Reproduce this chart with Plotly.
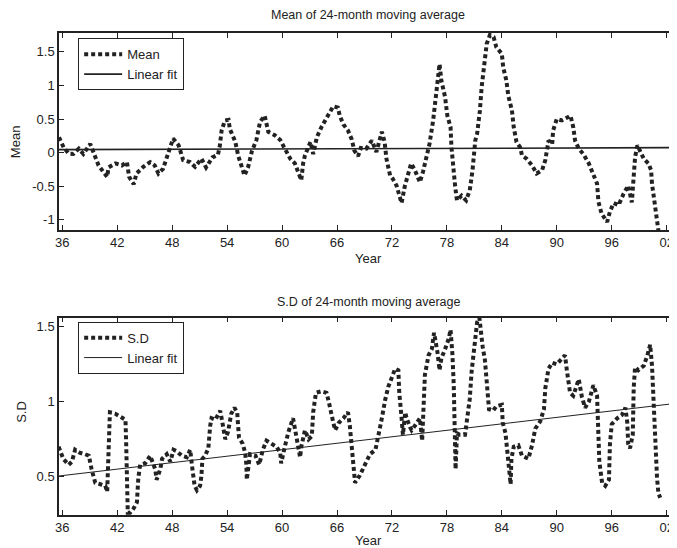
import plotly.graph_objects as go

# ---------------- data (years given as offsets from 1900) ----------------
mean_years = [35.64, 36.14, 36.7, 37.2, 37.8, 38.3, 39.05, 39.4, 39.96, 40.9, 41.05, 41.8, 42.5, 43.06,
              43.3, 43.8, 44.1, 44.85, 45.6, 46.1, 46.5, 47.0, 47.6, 48.1, 48.7, 49.2, 49.95, 50.5,
              51.2, 51.7, 52.4, 53.0, 53.2, 53.4, 53.76, 54.15, 54.3, 54.9, 55.2, 55.5, 55.9, 56.3,
              56.7, 57.2, 57.6, 58.1, 58.3, 58.5, 59.2, 59.8, 60.3, 60.9, 61.4, 61.8, 62.1, 62.3,
              62.5, 63.1, 63.4, 63.8, 64.3, 65.0, 65.6, 66.1, 66.3, 66.7, 67.2, 67.6, 67.9, 68.3,
              68.6, 69.2, 69.8, 70.3, 70.9, 71.2, 71.4, 71.8, 72.1, 72.5, 72.9, 73.05, 73.4, 73.8,
              74.1, 74.5, 75.05, 75.4, 75.8, 76.1, 76.5, 76.8, 77.05, 77.2, 77.4, 77.8, 78.05, 78.4,
              78.5, 78.7, 78.9, 79.1, 79.6, 80.1, 80.5, 80.8, 81.1, 81.3, 81.6, 81.8, 82.1, 82.35,
              82.7, 83.1, 83.4, 84.0, 84.15, 84.5, 84.7, 85.1, 85.3, 85.6, 86.0, 86.2, 86.7, 87.3,
              87.8, 88.4, 88.75, 89.1, 89.5, 89.6, 90.0, 90.55, 91.1, 91.5, 91.8, 92.0, 92.4, 92.9,
              93.5, 94.1, 94.4, 94.55, 94.9, 95.5, 95.8, 96.2, 96.75, 97.3, 97.8, 98.2, 98.4, 98.55,
              98.8, 99.1, 99.5, 100.0, 100.3, 100.4, 100.6, 100.8, 101.0, 101.1]
mean_values = [0.23, 0.08, -0.015, -0.02, 0.06, -0.02, 0.13, 0.0, -0.19, -0.36, -0.22, -0.16, -0.19, -0.14,
               -0.36, -0.47, -0.31, -0.21, -0.14, -0.19, -0.31, -0.24, 0.01, 0.21, 0.11, -0.11, -0.14, -0.21,
               -0.09, -0.22, -0.07, -0.03, 0.10, 0.33, 0.48, 0.49, 0.35, 0.16, -0.04, -0.19, -0.34, -0.21,
               0.02, 0.19, 0.46, 0.55, 0.40, 0.31, 0.26, 0.19, 0.06, -0.09, -0.16, -0.31, -0.41, -0.16,
               -0.04, 0.16, -0.02, 0.23, 0.38, 0.55, 0.69, 0.67, 0.55, 0.42, 0.33, 0.20, 0.03, -0.05,
               0.07, 0.06, 0.18, 0.01, 0.31, 0.16, -0.09, -0.34, -0.39, -0.49, -0.66, -0.75, -0.50, -0.28,
               -0.16, -0.26, -0.44, -0.28, -0.06, 0.13, 0.48, 0.83, 1.18, 1.32, 1.07, 0.83, 0.55, 0.38,
               0.08, -0.26, -0.50, -0.71, -0.64, -0.71, -0.56, -0.26, 0.18, 0.28, 0.62, 0.98, 1.32, 1.62,
               1.75, 1.72, 1.57, 1.47, 1.27, 1.07, 0.85, 0.63, 0.38, 0.16, 0.08, -0.04, -0.09, -0.19,
               -0.31, -0.26, -0.11, 0.18, 0.13, 0.33, 0.50, 0.48, 0.52, 0.55, 0.38, 0.18, 0.06, -0.02,
               -0.16, -0.36, -0.46, -0.73, -0.91, -1.03, -0.88, -0.75, -0.78, -0.61, -0.49, -0.74, -0.41, -0.07,
               0.11, 0.03, -0.09, -0.16, -0.26, -0.46, -0.66, -0.86, -1.06, -1.16]

sd_years = [35.6, 35.8, 36.1, 36.7, 37.05, 37.4, 37.9, 38.5, 38.9, 39.2, 39.6, 40.15, 40.7, 40.9,
            41.0, 41.07, 41.12, 41.2, 41.8, 42.3, 42.9, 42.98, 43.05, 43.15, 43.4, 43.8, 44.15, 44.3,
            44.5, 45.05, 45.6, 45.8, 46.15, 46.3, 46.7, 46.9, 47.4, 47.8, 48.15, 48.5, 49.05, 49.6,
            49.97, 50.15, 50.45, 50.7, 51.05, 51.2, 51.3, 51.6, 51.95, 52.15, 52.3, 52.7, 53.25, 53.4,
            53.6, 53.8, 54.1, 54.45, 54.8, 55.1, 55.2, 55.3, 55.7, 55.97, 56.1, 56.15, 56.5, 57.1,
            57.5, 57.9, 58.3, 58.8, 59.4, 59.8, 59.9, 60.3, 60.7, 61.2, 61.4, 61.7, 61.97, 62.1,
            62.5, 62.9, 63.25, 63.4, 63.7, 64.3, 64.85, 65.1, 65.4, 65.6, 65.8, 66.2, 66.7, 67.2,
            67.4, 67.6, 67.8, 67.97, 68.5, 69.05, 69.6, 70.2, 70.5, 70.9, 71.25, 71.6, 71.98, 72.35,
            72.7, 72.8, 73.0, 73.1, 73.2, 73.45, 73.6, 73.98, 74.15, 74.5, 75.05, 75.3, 75.4, 75.5,
            75.6, 76.0, 76.35, 76.6, 76.97, 77.2, 77.4, 77.8, 78.2, 78.4, 78.6, 78.75, 78.85, 78.95,
            79.1, 79.4, 79.98, 80.2, 80.5, 80.7, 81.1, 81.3, 81.55, 81.7, 81.9, 82.15, 82.3, 82.5,
            82.6, 83.05, 83.4, 84.0, 84.1, 84.4, 84.6, 84.8, 84.96, 85.05, 85.3, 85.8, 86.2, 86.9,
            87.3, 87.65, 88.2, 88.6, 88.75, 89.1, 89.5, 90.0, 90.55, 90.9, 91.1, 91.3, 91.45, 91.8,
            92.4, 92.75, 93.1, 93.5, 94.0, 94.4, 94.5, 94.65, 94.95, 95.3, 95.7, 95.8, 96.0, 96.6,
            97.1, 97.5, 97.7, 97.8, 98.0, 98.3, 98.4, 98.55, 98.9, 99.5, 99.9, 100.2, 100.4, 100.6,
            100.75, 100.95, 101.1, 101.3]
sd_values = [0.70, 0.66, 0.62, 0.58, 0.60, 0.68, 0.66, 0.65, 0.64, 0.55, 0.46, 0.45, 0.44, 0.40,
             0.55, 0.71, 0.86, 0.93, 0.92, 0.90, 0.88, 0.71, 0.49, 0.26, 0.26, 0.29, 0.33, 0.49,
             0.58, 0.59, 0.64, 0.60, 0.55, 0.48, 0.55, 0.62, 0.65, 0.60, 0.68, 0.67, 0.64, 0.63,
             0.68, 0.58, 0.44, 0.41, 0.44, 0.51, 0.62, 0.64, 0.69, 0.84, 0.89, 0.88, 0.94, 0.89,
             0.83, 0.75, 0.80, 0.92, 0.96, 0.93, 0.84, 0.76, 0.72, 0.66, 0.58, 0.48, 0.65, 0.64,
             0.58, 0.68, 0.74, 0.72, 0.70, 0.66, 0.59, 0.70, 0.80, 0.89, 0.83, 0.71, 0.63, 0.70,
             0.81, 0.75, 0.77, 0.93, 1.06, 1.07, 1.06, 1.00, 0.93, 0.86, 0.81, 0.86, 0.89, 0.93,
             0.84, 0.71, 0.58, 0.46, 0.51, 0.58, 0.65, 0.68, 0.76, 0.89, 1.01, 1.10, 1.16, 1.22,
             1.21, 1.06, 0.93, 0.83, 0.78, 0.93, 0.89, 0.83, 0.81, 0.84, 0.89, 0.74, 0.95, 1.08,
             1.18, 1.31, 1.35, 1.46, 1.33, 1.21, 1.29, 1.35, 1.42, 1.48, 1.32, 1.11, 0.86, 0.55,
             0.79, 0.78, 0.78, 0.88, 1.02, 1.20, 1.39, 1.53, 1.56, 1.46, 1.37, 1.28, 1.15, 1.02,
             0.95, 0.94, 0.97, 0.98, 0.86, 0.79, 0.66, 0.56, 0.45, 0.62, 0.70, 0.71, 0.64, 0.62,
             0.71, 0.82, 0.87, 0.95, 1.09, 1.22, 1.26, 1.25, 1.29, 1.31, 1.21, 1.11, 1.06, 1.04,
             1.15, 1.03, 0.96, 1.00, 1.11, 1.04, 0.82, 0.60, 0.46, 0.44, 0.48, 0.71, 0.85, 0.89,
             0.91, 0.96, 0.86, 0.72, 0.69, 0.78, 1.09, 1.23, 1.21, 1.24, 1.31, 1.38, 1.24, 0.93,
             0.67, 0.49, 0.39, 0.36]

fit_years = [35.64, 103.13]
mean_fit = [0.045, 0.075]
sd_fit = [0.505, 0.99]

tick_years = [36, 42, 48, 54, 60, 66, 72, 78, 84, 90, 96, 102]
tick_labels = ["36", "42", "48", "54", "60", "66", "72", "78", "84", "90", "96", "02"]
mean_ticks = [-1, -0.5, 0, 0.5, 1, 1.5]
mean_tick_labels = ["-1", "-0.5", "0", "0.5", "1", "1.5"]
sd_ticks = [0.5, 1, 1.5]
sd_tick_labels = ["0.5", "1", "1.5"]

x_range = [35.64, 103.13]
mean_range = [-1.15, 1.78]
sd_range = [0.245, 1.56]

FONT = "Liberation Sans, Arial, Helvetica, sans-serif"
INK = "#222222"
DOT = "4px,3px"

fig = go.Figure()

fig.add_trace(go.Scatter(x=[1900 + v for v in mean_years], y=mean_values, mode="lines", name="Mean",
                         line=dict(color=INK, width=4, dash=DOT), xaxis="x", yaxis="y",
                         legend="legend"))
fig.add_trace(go.Scatter(x=[1900 + v for v in fit_years], y=mean_fit, mode="lines", name="Linear fit",
                         line=dict(color=INK, width=1.6), xaxis="x", yaxis="y",
                         legend="legend"))
fig.add_trace(go.Scatter(x=[1900 + v for v in sd_years], y=sd_values, mode="lines", name="S.D",
                         line=dict(color=INK, width=4, dash=DOT), xaxis="x2", yaxis="y2",
                         legend="legend2"))
fig.add_trace(go.Scatter(x=[1900 + v for v in fit_years], y=sd_fit, mode="lines", name="Linear fit",
                         line=dict(color=INK, width=1), xaxis="x2", yaxis="y2",
                         legend="legend2"))

top_dom = [0.5913, 1.0]
bot_dom = [0.0, 0.4093]

xcommon = dict(range=[1900 + v for v in x_range], tickvals=[1900 + v for v in tick_years],
               ticktext=tick_labels,
               ticks="inside", ticklen=5, tickcolor=INK, tickwidth=1,
               showline=True, linecolor=INK, linewidth=1.5, mirror="ticks",
               showgrid=False, zeroline=False, ticklabeloverflow="allow",
               tickfont=dict(family=FONT, size=13, color=INK))
ycommon = dict(ticks="inside", ticklen=5, tickcolor=INK, tickwidth=1,
               showline=True, linecolor=INK, linewidth=1.5,
               showgrid=False, zeroline=False,
               tickfont=dict(family=FONT, size=13, color=INK))
yright = dict(ticks="inside", ticklen=5, tickcolor=INK, tickwidth=1,
              showline=False, showticklabels=False, showgrid=False, zeroline=False,
              side="right")

legend_common = dict(xanchor="left", yanchor="top", bordercolor=INK, borderwidth=1,
                     bgcolor="white", font=dict(family=FONT, size=13, color=INK),
                     tracegroupgap=0, itemwidth=38)

# the page body adds an 8px offset, so the figure is 8px smaller on each axis
fig.update_layout(
    width=669, height=540,
    margin=dict(l=51, r=0, t=25, b=33),
    paper_bgcolor="white", plot_bgcolor="white",
    font=dict(family=FONT, size=13, color=INK),
    xaxis=dict(domain=[0, 1], anchor="y", **xcommon),
    yaxis=dict(domain=top_dom, anchor="x", range=mean_range, tickvals=mean_ticks,
               ticktext=mean_tick_labels, **ycommon),
    yaxis3=dict(domain=top_dom, anchor="x", overlaying="y", range=mean_range,
                tickvals=mean_ticks, **yright),
    xaxis2=dict(domain=[0, 1], anchor="y2", **xcommon),
    yaxis2=dict(domain=bot_dom, anchor="x2", range=sd_range, tickvals=sd_ticks,
                ticktext=sd_tick_labels, **ycommon),
    yaxis4=dict(domain=bot_dom, anchor="x2", overlaying="y2", range=sd_range,
                tickvals=sd_ticks, **yright),
    legend=dict(x=0.031, y=0.989, **legend_common),
    legend2=dict(x=0.031, y=0.401, **legend_common),
    showlegend=True,
    annotations=[
        dict(text="Mean of 24-month moving average", x=0.5, y=1.037, xref="paper", yref="paper",
             xanchor="center", yanchor="middle", showarrow=False, font=dict(size=12.5)),
        dict(text="S.D of 24-month moving average", x=0.5, y=0.442, xref="paper", yref="paper",
             xanchor="center", yanchor="middle", showarrow=False, font=dict(size=12.5)),
        dict(text="Year", x=0.5, y=0.533, xref="paper", yref="paper",
             xanchor="center", yanchor="middle", showarrow=False),
        dict(text="Year", x=0.5, y=-0.053, xref="paper", yref="paper",
             xanchor="center", yanchor="middle", showarrow=False),
        dict(text="Mean", x=-0.0712, y=(top_dom[0] + top_dom[1]) / 2 - 0.02, xref="paper", yref="paper",
             xanchor="center", yanchor="middle", showarrow=False, textangle=-90),
        dict(text="S.D", x=-0.061, y=(bot_dom[0] + bot_dom[1]) / 2 + 0.01, xref="paper", yref="paper",
             xanchor="center", yanchor="middle", showarrow=False, textangle=-90),
    ],
)

fig.write_html("out.html")
